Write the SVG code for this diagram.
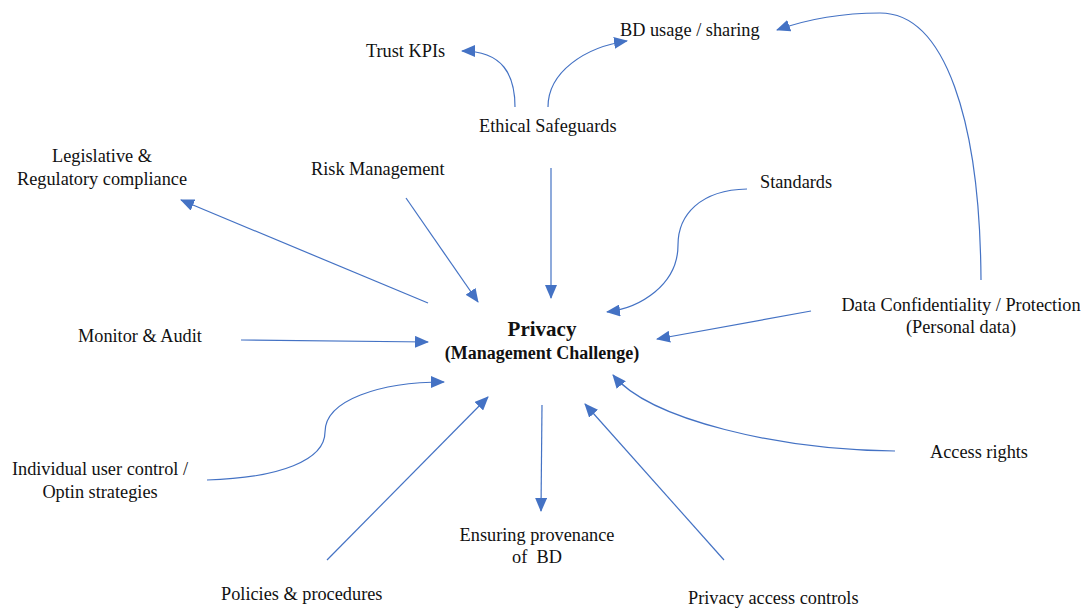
<svg xmlns="http://www.w3.org/2000/svg" width="1087" height="608" viewBox="0 0 1087 608">
<style>
text{font-family:"Liberation Serif","Times New Roman",serif;font-size:18.3px;fill:#111}
.c{stroke:#4472C4;stroke-width:1.2;fill:none;marker-end:url(#ah)}
.b{font-weight:bold}
</style>
<defs>
<marker id="ah" markerUnits="userSpaceOnUse" markerWidth="14" markerHeight="12" viewBox="0 0 14 12" refX="13" refY="6" orient="auto">
<path d="M0,0 L14,6 L0,12 Z" fill="#4472C4"/>
</marker>
</defs>
<rect width="1087" height="608" fill="#fff"/>
<g id="connectors">
<path class="c" d="M515,107 C515,75 503,51 462,51"/>
<path class="c" d="M548,107 C548,72 585,47 627,41"/>
<path class="c" d="M981,280 C980,120 945,13 880,13 C840,13 805,20 777,30"/>
<path class="c" d="M551,168 L551,298"/>
<path class="c" d="M406,198 L478,302"/>
<path class="c" d="M428,303 L181,200"/>
<path class="c" d="M747,189 C700,190 678,215 678,245 C678,285 640,308 607,312"/>
<path class="c" d="M811,311 L657,339"/>
<path class="c" d="M241,340 L428,342"/>
<path class="c" d="M207,480 C280,478 325,460 325,432 C325,400 380,382 444,382"/>
<path class="c" d="M327,560 L488,397"/>
<path class="c" d="M542,405 L541,511"/>
<path class="c" d="M724,560 L585,404"/>
<path class="c" d="M895,451 C780,450 650,420 613,375"/>
</g>
<g id="privacy"><text x="542" y="336" text-anchor="middle" class="b" style="font-size:21px">Privacy</text><text x="542" y="359" text-anchor="middle" class="b" style="font-size:18px">(Management Challenge)</text></g>
<g id="trust-kpis"><text x="366" y="57">Trust KPIs</text></g>
<g id="bd-usage"><text x="620" y="36">BD usage / sharing</text></g>
<g id="ethical"><text x="479" y="132">Ethical Safeguards</text></g>
<g id="legislative"><text x="102" y="162" text-anchor="middle">Legislative &amp;</text><text x="102" y="185" text-anchor="middle">Regulatory compliance</text></g>
<g id="risk"><text x="311" y="175">Risk Management</text></g>
<g id="standards"><text x="760" y="188">Standards</text></g>
<g id="data-conf"><text x="961" y="311" text-anchor="middle">Data Confidentiality / Protection</text><text x="961" y="333" text-anchor="middle">(Personal data)</text></g>
<g id="monitor"><text x="78" y="342">Monitor &amp; Audit</text></g>
<g id="access-rights"><text x="930" y="458">Access rights</text></g>
<g id="individual"><text x="100" y="475" text-anchor="middle">Individual user control /</text><text x="100" y="498" text-anchor="middle">Optin strategies</text></g>
<g id="provenance"><text x="537" y="541" text-anchor="middle">Ensuring provenance</text><text x="537" y="563" text-anchor="middle" xml:space="preserve">of  BD</text></g>
<g id="policies"><text x="221" y="600">Policies &amp; procedures</text></g>
<g id="access-controls"><text x="688" y="604">Privacy access controls</text></g>
</svg>
